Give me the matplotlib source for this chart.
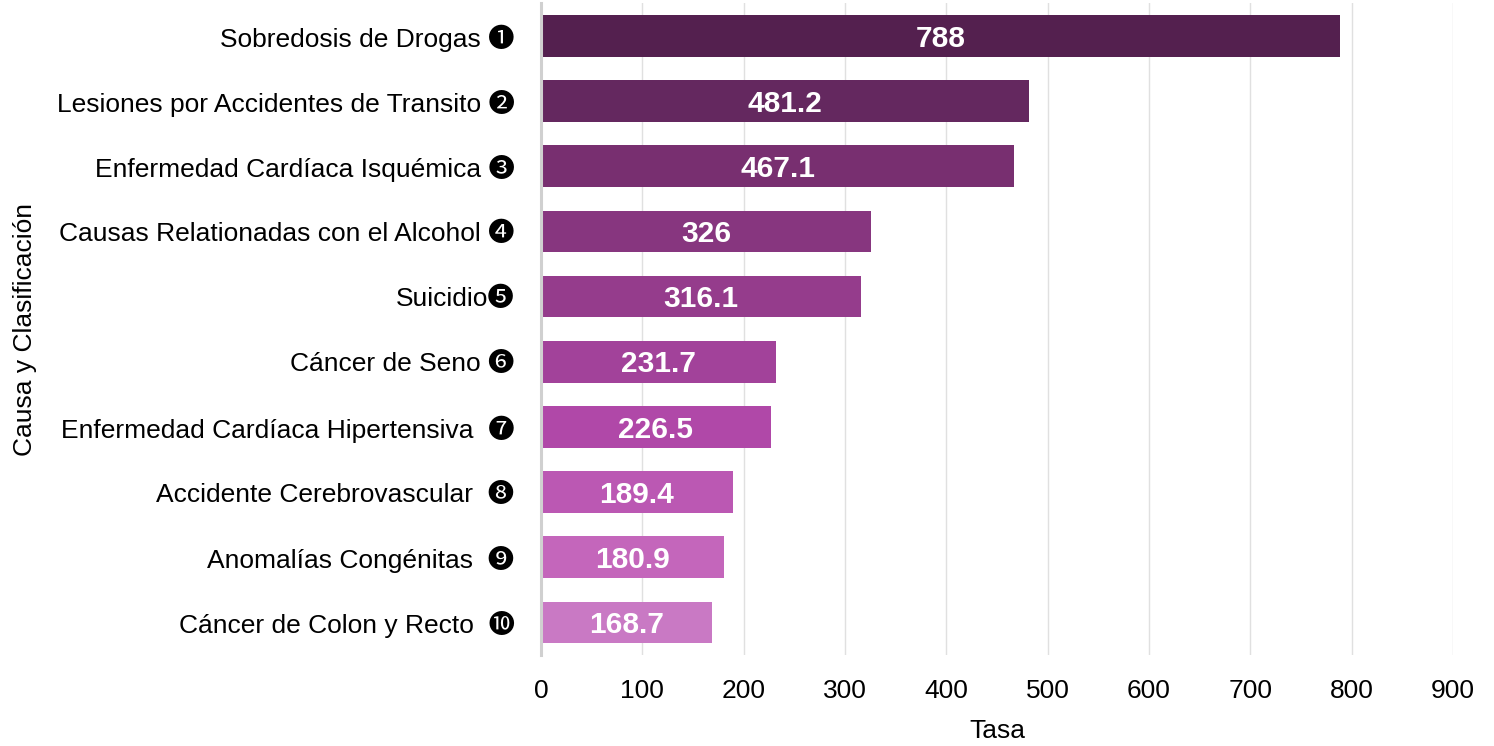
import matplotlib.pyplot as plt

plt.rcParams['font.family'] = ['Liberation Sans', 'Noto Sans CJK JP', 'DejaVu Sans']

# data
causes = [
    "Sobredosis de Drogas ❶",
    "Lesiones por Accidentes de Transito ❷",
    "Enfermedad Cardíaca Isquémica ❸",
    "Causas Relationadas con el Alcohol ❹",
    "Suicidio❺",
    "Cáncer de Seno ❻",
    "Enfermedad Cardíaca Hipertensiva  ❼",
    "Accidente Cerebrovascular  ❽",
    "Anomalías Congénitas  ❾",
    "Cáncer de Colon y Recto  ❿",
]
rates = [788, 481.2, 467.1, 326, 316.1, 231.7, 226.5, 189.4, 180.9, 168.7]
rate_labels = ["788", "481.2", "467.1", "326", "316.1", "231.7", "226.5", "189.4", "180.9", "168.7"]
bar_colors = ["#54204f", "#64285f", "#782f70", "#87367f", "#953c8c",
              "#a2429a", "#b048a8", "#bb58b3", "#c466bb", "#c979c4"]
x_ticks = [0, 100, 200, 300, 400, 500, 600, 700, 800, 900]

fig = plt.figure(figsize=(14.94, 7.46), dpi=100)
ax = fig.add_axes([0.3621, 0.122, 0.9726 - 0.3621, 0.9954 - 0.122])

ypos = list(range(len(causes)))
ax.barh(ypos, rates, height=0.64, color=bar_colors, zorder=3)
for y, v, lab in zip(ypos, rates, rate_labels):
    ax.text(v / 2, y + 0.04, lab, ha='center', va='center', color='white',
            fontsize=21.5, fontweight='bold', zorder=4)

ax.set_ylim(len(causes) - 0.5, -0.5)
ax.set_xlim(0, 900)
ax.set_yticks(ypos)
ax.set_yticklabels(causes, fontsize=19)
ax.set_xticks(x_ticks)
ax.set_xticklabels([str(t) for t in x_ticks], fontsize=19)
ax.tick_params(axis='both', length=0)
ax.tick_params(axis='x', pad=17)
ax.tick_params(axis='y', pad=19)

ax.xaxis.grid(True, color='#e0e0e0', linewidth=1, zorder=0)
for s in ['top', 'right', 'bottom']:
    ax.spines[s].set_visible(False)
ax.spines['left'].set_color('#d0d0d0')
ax.spines['left'].set_linewidth(2.2)
ax.spines['left'].set_zorder(5)

ax.set_xlabel("Tasa", fontsize=19, labelpad=12)
ax.set_ylabel("Causa y Clasificación", fontsize=19, labelpad=14)

fig.savefig("out.png", dpi=100)
